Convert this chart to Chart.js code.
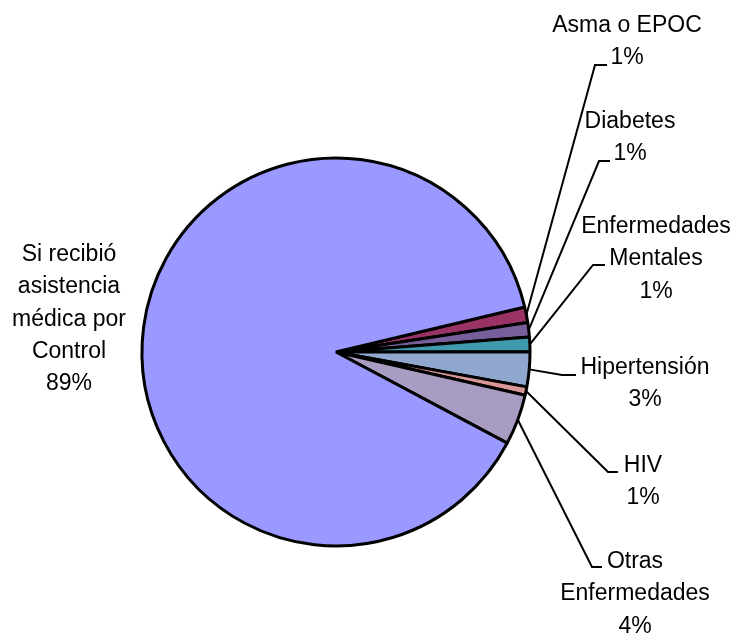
<!DOCTYPE html>
<html>
<head>
<meta charset="utf-8">
<script src="https://cdn.jsdelivr.net/npm/chart.js@4/dist/chart.umd.min.js"></script>
<style>
  html, body { margin: 0; padding: 0; background: #fff; }
  #wrap { width: 747px; height: 636px; }
</style>
</head>
<body>
<div id="wrap"><canvas id="pieChart" width="747" height="636"></canvas></div>
<script>
// Datos (porcentajes estimados por ángulo)
const categorias = [
    ['Asma o EPOC'],
    ['Diabetes'],
    ['Enfermedades', 'Mentales'],
    ['Hipertensión'],
    ['HIV'],
    ['Otras', 'Enfermedades'],
    ['Si recibió', 'asistencia', 'médica por', 'Control']
];
const valores = [1.3, 1.2, 1.2, 2.9, 0.7, 4.2, 88.5];
const etiquetasPct = ['1%', '1%', '1%', '3%', '1%', '4%', '89%'];
const colores = ['#993366', '#775f9c', '#3f9aad', '#90a8d0', '#d99797', '#a99cc2', '#9999ff'];

// Posición de etiquetas relativa al centro del pastel (texto, codo de la línea guía)
const posEtiquetas = [
    { tx: 291, ty: -320, ex: 259, ey: -287, hx: 271 },
    { tx: 294, ty: -224, ex: 263, ey: -191, hx: 274 },
    { tx: 320, ty: -119, ex: 257, ey: -87, hx: 269 },
    { tx: 309, ty: 22, ex: 226, ey: 23, hx: 240 },
    { tx: 307, ty: 120, ex: 272, ey: 120, hx: 282 },
    { tx: 299, ty: 216, ex: 256, ey: 215, hx: 266 },
    { tx: -267, ty: -91, ex: null }
];
const altoLinea = 32.3;

const etiquetasPlugin = {
    id: 'etiquetas',
    afterDatasetsDraw(chart) {
        const ctx = chart.ctx;
        const arcs = chart.getDatasetMeta(0).data;
        ctx.save();
        ctx.font = '23px "Liberation Sans", Arial, sans-serif';
        ctx.fillStyle = '#000';
        ctx.textAlign = 'center';
        ctx.textBaseline = 'alphabetic';
        ctx.strokeStyle = '#000';
        ctx.lineWidth = 2;
        arcs.forEach(function(arc, i) {
            const p = posEtiquetas[i];
            const cx = arc.x, cy = arc.y;
            const lineas = categorias[i].concat([etiquetasPct[i]]);
            lineas.forEach(function(t, k) {
                ctx.fillText(t, cx + p.tx, cy + p.ty + k * altoLinea);
            });
            if (p.ex !== null) {
                const medio = (arc.startAngle + arc.endAngle) / 2;
                const r = arc.outerRadius;
                ctx.beginPath();
                ctx.moveTo(cx + Math.cos(medio) * r, cy + Math.sin(medio) * r);
                ctx.lineTo(cx + p.ex, cy + p.ey);
                ctx.lineTo(cx + p.hx, cy + p.ey);
                ctx.stroke();
            }
        });
        ctx.restore();
    }
};

const ctx = document.getElementById('pieChart').getContext('2d');
const pieChart = new Chart(ctx, {
    type: 'pie',
    data: {
        labels: categorias.map(function(c) { return c.join(' '); }),
        datasets: [{
            data: valores,
            backgroundColor: colores,
            borderColor: '#000',
            borderWidth: 3
        }]
    },
    options: {
        responsive: false,
        animation: false,
        rotation: 76.6,
        layout: { padding: { left: 140.5, right: 215.5, top: 156.5, bottom: 88.5 } },
        plugins: {
            legend: { display: false },
            tooltip: { enabled: false }
        }
    },
    plugins: [etiquetasPlugin]
});
</script>
</body>
</html>
